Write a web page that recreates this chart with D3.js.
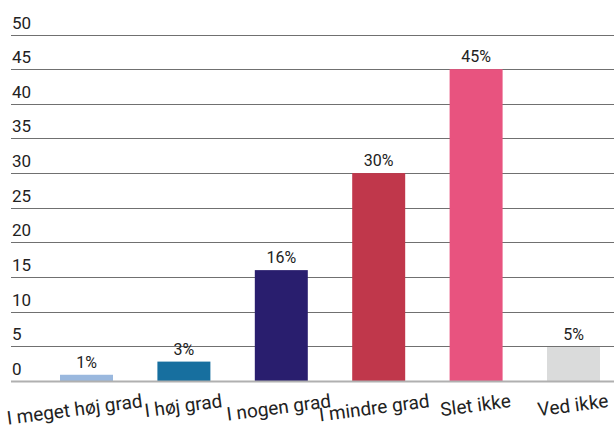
<!DOCTYPE html>
<html><head><meta charset="utf-8">
<script src="https://cdn.jsdelivr.net/npm/d3@7"></script>
<style>body{margin:0;background:#fff}svg{display:block}</style>
</head><body>
<svg id="c" width="614" height="431"></svg>
<script>
const categories = ["I meget høj grad","I høj grad","I nogen grad","I mindre grad","Slet ikke","Ved ikke"];
const values = [0.9, 2.8, 16, 30, 45, 4.9];
const valueLabels = ["1%","3%","16%","30%","45%","5%"];
const colors = ["#9ab8de","#176f9f","#291e6e","#c0374b","#e8537f","#dadbdb"];
const yTicks = [0,5,10,15,20,25,30,35,40,45,50];

const svg = d3.select("#c");
const font = "Roboto, 'Liberation Sans', sans-serif";
const y = d3.scaleLinear().domain([0,50]).range([381,34.5]);
const x = d3.scaleBand().domain(categories).range([37.8,622.2]).paddingInner(0.456).paddingOuter(0.228);

// gridlines
svg.append("g").selectAll("line").data(yTicks.filter(d=>d>0)).join("line")
  .attr("x1",11).attr("x2",614)
  .attr("y1",d=>Math.round(y(d))+0.5).attr("y2",d=>Math.round(y(d))+0.5)
  .attr("stroke","#707070").attr("stroke-width",1);
// tick labels
svg.append("g").selectAll("text").data(yTicks).join("text")
  .attr("x",12).attr("y",d=>y(d)-6)
  .attr("font-family",font).attr("font-size",17).attr("fill","#222")
  .text(d=>d);

// bars
svg.append("g").selectAll("rect").data(values).join("rect")
  .attr("x",(d,i)=>x(categories[i])).attr("width",x.bandwidth())
  .attr("y",d=>y(d)).attr("height",d=>y(0)-y(d))
  .attr("fill",(d,i)=>colors[i]);

// baseline
svg.append("line").attr("x1",11).attr("x2",614).attr("y1",y(0)+0.5).attr("y2",y(0)+0.5)
  .attr("stroke","#b0b0b0").attr("stroke-width",2);

// value labels
svg.append("g").selectAll("text").data(values).join("text")
  .attr("x",(d,i)=>x(categories[i])+x.bandwidth()/2).attr("y",d=>y(d)-7)
  .attr("text-anchor","middle").attr("font-family",font).attr("font-size",16).attr("fill","#222")
  .text((d,i)=>valueLabels[i]);

// category labels (rotated about their right end)
const step = x.step();
svg.append("g").selectAll("text").data(categories).join("text")
  .attr("text-anchor","end")
  .attr("font-family",font).attr("font-size",19).attr("fill","#222")
  .text(d=>d)
  .each(function(d){
    const w = this.getComputedTextLength();
    const shift = Math.max(0, w - step) * 0.3;
    const R = x(d) + x.bandwidth()/2 + w/2 - shift;
    d3.select(this).attr("transform",`translate(${R},407) rotate(-7.5)`);
  });
</script>
</body></html>
